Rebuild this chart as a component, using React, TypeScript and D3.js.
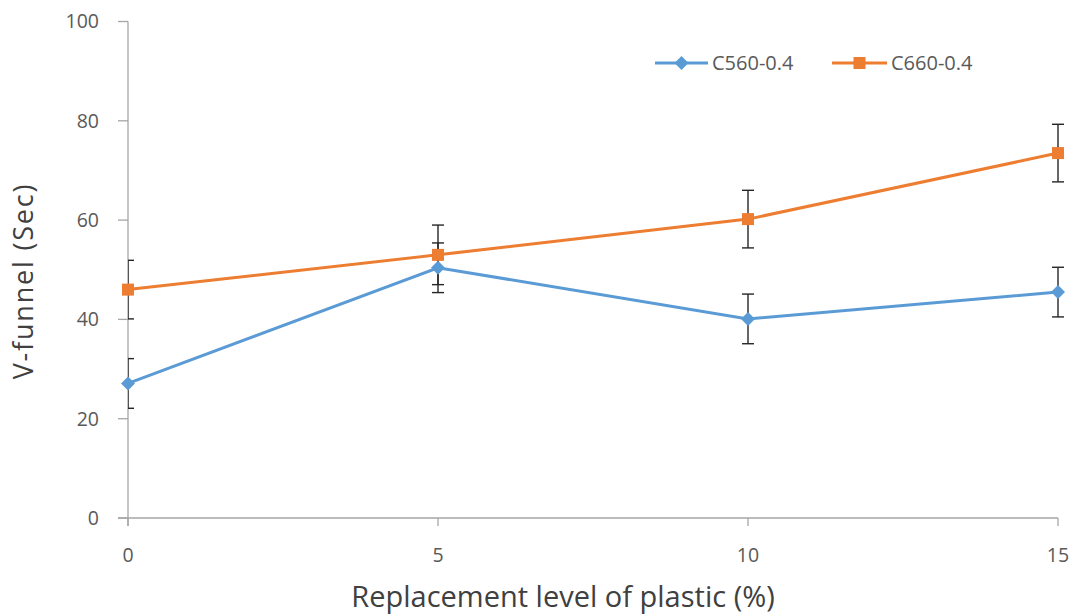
import React from "react";
import * as d3 from "d3";

const xValues = [0, 5, 10, 15];
const yTicks = [0, 20, 40, 60, 80, 100];
const c560 = [27.1, 50.4, 40.1, 45.5];
const c560Err = [5.0, 5.0, 5.0, 5.0];
const c660 = [46.0, 53.0, 60.2, 73.5];
const c660Err = [5.9, 6.0, 5.8, 5.8];

const series = [
  { name: "C560-0.4", values: c560, err: c560Err, color: "#5B9BD5", marker: "diamond" },
  { name: "C660-0.4", values: c660, err: c660Err, color: "#ED7D31", marker: "square" },
];

const W = 1080;
const H = 616;
const left = 128;
const right = 1058;
const top = 21.5;
const bottom = 518;
const font = "'Open Sans', 'DejaVu Sans', sans-serif";

export default function App() {
  const x = d3.scaleLinear().domain([0, 15]).range([left, right]);
  const y = d3.scaleLinear().domain([0, 100]).range([bottom, top]);
  const line = d3
    .line<number>()
    .x((_, i) => x(xValues[i]))
    .y((d) => y(d));

  const marker = (type: string, cx: number, cy: number, color: string) =>
    type === "diamond" ? (
      <path d={`M${cx},${cy - 7}L${cx + 7},${cy}L${cx},${cy + 7}L${cx - 7},${cy}Z`} fill={color} />
    ) : (
      <rect x={cx - 6} y={cy - 6} width={12} height={12} fill={color} />
    );

  const legendPos = [
    { x1: 655, x2: 708, tx: 712 },
    { x1: 832, x2: 887, tx: 891 },
  ];

  return (
    <svg
      width={W}
      height={H}
      style={{ position: "absolute", left: 0, top: 0, background: "#fff" }}
    >
      <defs>
        <clipPath id="plotClip">
          <rect x={left} y={0} width={W - left} height={H} />
        </clipPath>
      </defs>
      {/* axes */}
      <line x1={left} x2={left} y1={top} y2={bottom + 8} stroke="#A6A6A6" strokeWidth={1.3} />
      <line x1={left - 10} x2={right} y1={bottom} y2={bottom} stroke="#A6A6A6" strokeWidth={1.3} />
      {yTicks.map((t) => (
        <g key={"y" + t}>
          <line x1={left - 10} x2={left} y1={y(t)} y2={y(t)} stroke="#A6A6A6" strokeWidth={1.3} />
          <text
            x={99}
            y={y(t)}
            dy="0.35em"
            textAnchor="end"
            fontFamily={font}
            fontSize={19.5}
            fill="#595959"
          >
            {t}
          </text>
        </g>
      ))}
      {xValues.map((t) => (
        <g key={"x" + t}>
          <line x1={x(t)} x2={x(t)} y1={bottom} y2={bottom + 8} stroke="#A6A6A6" strokeWidth={1.3} />
          <text
            x={x(t)}
            y={555.5}
            dy="0.35em"
            textAnchor="middle"
            fontFamily={font}
            fontSize={19.5}
            fill="#595959"
          >
            {t}
          </text>
        </g>
      ))}
      <text
        x={563}
        y={607}
        textAnchor="middle"
        fontFamily={font}
        fontSize={29}
        fill="#404040"
      >
        Replacement level of plastic (%)
      </text>
      <text
        transform={`translate(33,${281}) rotate(-90)`}
        textAnchor="middle"
        fontFamily={font}
        fontSize={27}
        letterSpacing={1.8}
        fill="#404040"
      >
        V-funnel (Sec)
      </text>

      {/* error bars */}
      <g clipPath="url(#plotClip)">
        {series.map((s) =>
          s.values.map((v, i) => {
            const cx = x(xValues[i]);
            const y1 = y(v + s.err[i]);
            const y2 = y(v - s.err[i]);
            return (
              <g key={s.name + i} stroke="#262626" strokeWidth={1.4}>
                <line x1={cx} x2={cx} y1={y1} y2={y2} />
                <line x1={cx - 6} x2={cx + 6} y1={y1} y2={y1} />
                <line x1={cx - 6} x2={cx + 6} y1={y2} y2={y2} />
              </g>
            );
          })
        )}
      </g>

      {/* lines */}
      {series.map((s) => (
        <g key={s.name}>
          <path d={line(s.values) || ""} fill="none" stroke={s.color} strokeWidth={3} />
          {s.values.map((v, i) => (
            <g key={i}>{marker(s.marker, x(xValues[i]), y(v), s.color)}</g>
          ))}
        </g>
      ))}

      {/* legend */}
      {series.map((s, i) => {
        const p = legendPos[i];
        return (
          <g key={"l" + s.name}>
            <line x1={p.x1} x2={p.x2} y1={63} y2={63} stroke={s.color} strokeWidth={3} />
            {marker(s.marker, (p.x1 + p.x2) / 2, 63, s.color)}
            <text
              x={p.tx}
              y={63}
              dy="0.35em"
              fontFamily={font}
              fontSize={20}
              fill="#595959"
            >
              {s.name}
            </text>
          </g>
        );
      })}
    </svg>
  );
}
